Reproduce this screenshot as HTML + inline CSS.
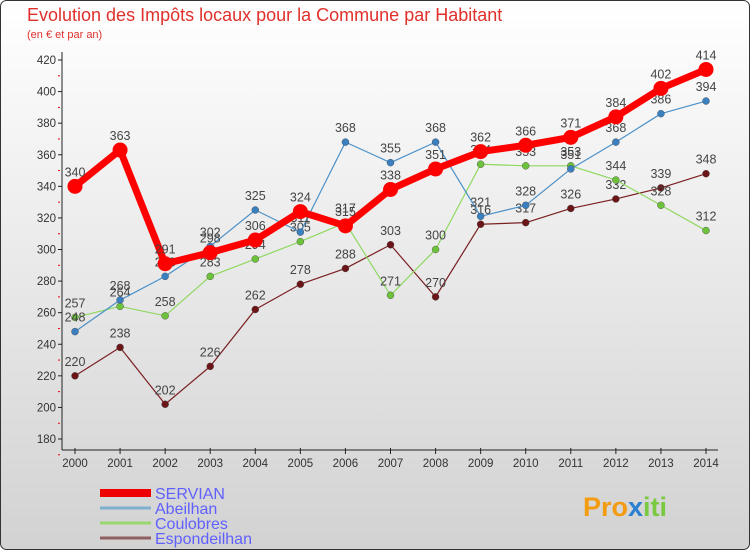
<!DOCTYPE html>
<html><head><meta charset="utf-8"><style>
body{margin:0;}
#wrap{width:750px;height:550px;position:relative;overflow:hidden;font-family:"Liberation Sans","DejaVu Sans",sans-serif;}
</style></head><body>
<div id="wrap">
<svg id="chart" width="750" height="550">
<defs><linearGradient id="bg" x1="0" y1="0" x2="0" y2="1"><stop offset="0" stop-color="#ffffff"/><stop offset="1" stop-color="#d2d2d2"/></linearGradient></defs>
<rect x="0.5" y="0.5" width="749" height="549" rx="6" fill="url(#bg)" stroke="#333"/>
<text x="27" y="21" font-size="18" fill="#e0302c">Evolution des Impôts locaux pour la Commune par Habitant</text>
<text x="27" y="38" font-size="11" fill="#e0302c">(en € et par an)</text>
<g id="axes"></g><g id="series"></g><g id="legend"></g>
<text x="583" y="516" font-size="27" font-weight="bold" fill="#f39c12">Pro<tspan fill="#2a7fd0">x</tspan><tspan fill="#7ac943">iti</tspan></text>
</svg></div>
<script>
const years=[2000,2001,2002,2003,2004,2005,2006,2007,2008,2009,2010,2011,2012,2013,2014];
const yTicks=[180,200,220,240,260,280,300,320,340,360,380,400,420];
const servian=[340,363,291,298,306,324,315,338,351,362,366,371,384,402,414];
const abeilhan=[248,268,283,302,325,311,368,355,368,321,328,351,368,386,394];
const coulobres=[257,264,258,283,294,305,317,271,300,354,353,353,344,328,312];
const espondeilhan=[220,238,202,226,262,278,288,303,270,316,317,326,332,339,348];
const seriesNames=["SERVIAN","Abeilhan","Coulobres","Espondeilhan"];
const NS="http://www.w3.org/2000/svg";
function xs(i){return 75+i*(706-75)/14;}
function ys(v){return 439-(v-180)*(439-60)/240;}
function mk(tag,attrs,parent){const e=document.createElementNS(NS,tag);for(const k in attrs)e.setAttribute(k,attrs[k]);parent.appendChild(e);return e;}
const ax=document.getElementById('axes');
const yl=mk('line',{x1:62,y1:52,x2:62,y2:450,stroke:'#222'},ax);


const xl=mk('line',{x1:62,y1:450,x2:718,y2:450,stroke:'#222'},ax);


yTicks.forEach(v=>{const y=ys(v);
mk('line',{x1:58,y1:y,x2:62,y2:y,stroke:'#222'},ax);
mk('line',{x1:58,y1:y+15.8,x2:60,y2:y+15.8,stroke:'#e00'},ax);
const t=mk('text',{x:56,y:y+4,'font-size':11.5,'text-anchor':'end',fill:'#333'},ax);t.textContent=v;

});
years.forEach((yr,i)=>{const x=xs(i);
mk('line',{x1:x,y1:448,x2:x,y2:454,stroke:'#222'},ax);
const t=mk('text',{x:x,y:467,'font-size':11.5,'text-anchor':'middle',fill:'#333'},ax);t.textContent=yr;

});
const sg=document.getElementById('series');
const defs=[[espondeilhan,'#7a1f22','#6b1518',1.2,3.5,'espondeilhan'],[coulobres,'#8fd860','#6cc23a',1.2,3.5,'coulobres'],[abeilhan,'#4a90c8','#3a80c0',1.2,3.5,'abeilhan'],[servian,'#ff0000','#ff0000',7,7.5,'servian']];
defs.forEach(([data,lc,mc,w,r,name])=>{
const g=mk('g',{},sg);


const p=mk('polyline',{points:data.map((v,i)=>xs(i)+','+ys(v)).join(' '),fill:'none',stroke:lc,'stroke-width':w,'stroke-linejoin':'round'},g);


data.forEach((v,i)=>{
const c=mk('circle',{cx:xs(i),cy:ys(v),r:r,fill:mc,stroke:name=='servian'?'none':'#444','stroke-width':0.4},g);


const t=mk('text',{x:xs(i),y:ys(v)-10,'font-size':12.5,'text-anchor':'middle',fill:'#444'},g);t.textContent=v;

});});
const lg=document.getElementById('legend');
const lcol=['#ee0000','#7fb0d0','#99d670','#906060'];const lw=[8,3,3,3];
seriesNames.forEach((n,i)=>{const y=493+i*15;
const l=mk('line',{x1:100,y1:y,x2:151,y2:y,stroke:lcol[i],'stroke-width':lw[i]},lg);


const t=mk('text',{x:155,y:y+6,'font-size':16,fill:'#6060ff'},lg);t.textContent=n;

});
</script></body></html>
